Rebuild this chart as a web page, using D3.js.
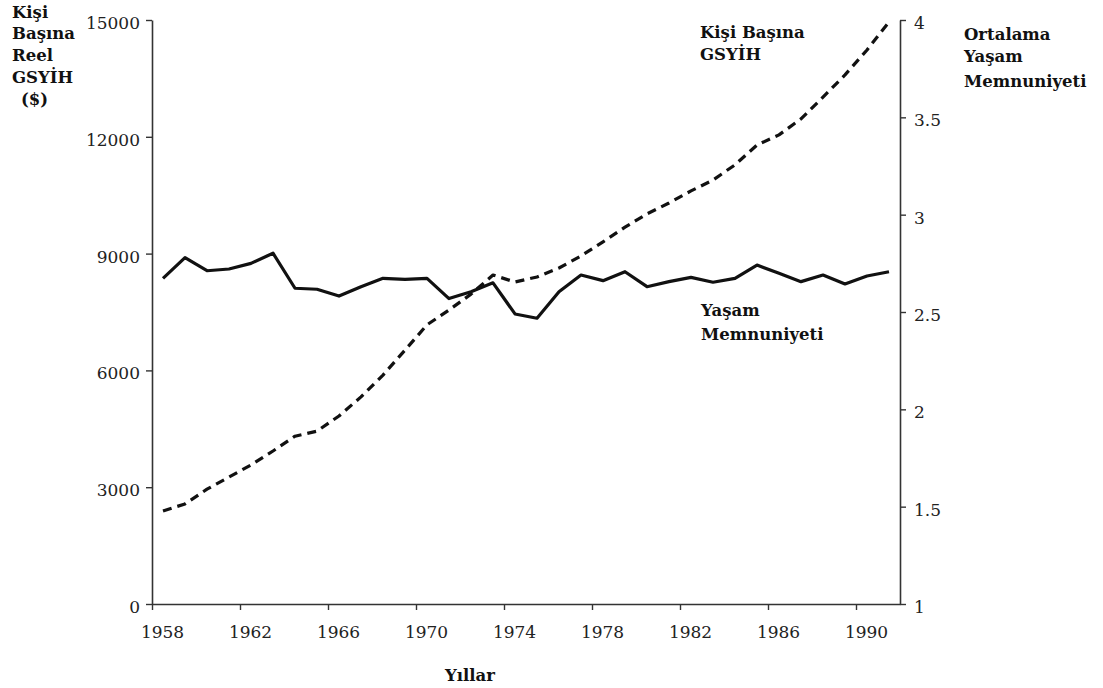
<!DOCTYPE html>
<html>
<head>
<meta charset="utf-8">
<script src="https://cdn.jsdelivr.net/npm/d3@7"></script>
<style>
  html, body { margin: 0; padding: 0; background: #fff; }
  svg { display: block; }
</style>
</head>
<body>
<svg id="chart" width="1103" height="688"></svg>
<script>
// ---- data ----
const years = [1958,1959,1960,1961,1962,1963,1964,1965,1966,1967,1968,1969,1970,1971,1972,1973,1974,
               1975,1976,1977,1978,1979,1980,1981,1982,1983,1984,1985,1986,1987,1988,1989,1990,1991];
const gdpPerCapita = [2390,2570,2950,3260,3570,3930,4310,4440,4830,5320,5880,6520,7170,7550,7960,8450,8270,
                      8400,8630,8940,9300,9680,10020,10300,10610,10890,11280,11790,12050,12460,13020,13590,14230,14950];
const lifeSatisfaction = [2.673,2.779,2.712,2.721,2.750,2.802,2.622,2.617,2.582,2.630,2.673,2.668,2.673,2.569,2.604,2.650,2.490,
                          2.468,2.604,2.690,2.661,2.707,2.630,2.656,2.678,2.653,2.673,2.741,2.699,2.656,2.690,2.644,2.685,2.707];
const xTicks = [1958,1962,1966,1970,1974,1978,1982,1986,1990];
const leftTicks = [0,3000,6000,9000,12000,15000];
const rightTicks = [1,1.5,2,2.5,3,3.5,4];
const leftTitle = ["Kişi","Başına","Reel","GSYİH","($)"];
const rightTitle = ["Ortalama","Yaşam","Memnuniyeti"];
const gdpLabel = ["Kişi Başına","GSYİH"];
const lsLabel = ["Yaşam","Memnuniyeti"];
const xTitle = "Yıllar";

// ---- layout ----
const svg = d3.select("#chart");
const x = d3.scaleLinear().domain([1958, 1992]).range([152, 900]);
const yL = d3.scaleLinear().domain([0, 15000]).range([604, 20]);
const yR = d3.scaleLinear().domain([1, 4]).range([604, 20]);
const serif = "'DejaVu Serif', serif";
const axisColor = "#333";

function styleAxis(g) {
  g.select(".domain").attr("stroke", axisColor).attr("stroke-width", 1.6);
  g.selectAll(".tick line").attr("stroke", axisColor).attr("stroke-width", 1.4);
  g.selectAll(".tick text").attr("fill", "#222").style("font-family", serif).style("font-size", "17px");
}

// x axis
const gx = svg.append("g").attr("transform", "translate(0,604)")
  .call(d3.axisBottom(x).tickValues(xTicks).tickFormat(d3.format("d")).tickSize(6).tickSizeOuter(0).tickPadding(16));
styleAxis(gx);
gx.selectAll(".tick text").attr("dx", 10);

// left axis
const gl = svg.append("g").attr("transform", "translate(152,0)")
  .call(d3.axisLeft(yL).tickValues(leftTicks).tickFormat(d3.format("d")).tickSize(6).tickSizeOuter(0).tickPadding(6));
styleAxis(gl);
gl.selectAll(".tick text").attr("dy", "0.5em");

// right axis
const gr = svg.append("g").attr("transform", "translate(900,0)")
  .call(d3.axisRight(yR).tickValues(rightTicks).tickFormat(d => d).tickSize(6).tickSizeOuter(0).tickPadding(8));
styleAxis(gr);
gr.selectAll(".tick text").attr("dy", "0.5em");

// lines
const gdpLine = d3.line().x((d, i) => x(years[i] + 0.5)).y(d => yL(d));
const lsLine = d3.line().x((d, i) => x(years[i] + 0.5)).y(d => yR(d));

svg.append("path").datum(gdpPerCapita)
  .attr("d", gdpLine).attr("fill", "none").attr("stroke", "#111")
  .attr("stroke-width", 3.2).attr("stroke-dasharray", "9,6").attr("stroke-linejoin", "round");

svg.append("path").datum(lifeSatisfaction)
  .attr("d", lsLine).attr("fill", "none").attr("stroke", "#111")
  .attr("stroke-width", 3.2).attr("stroke-linejoin", "round");

// text labels
function block(lines, xs, ys, anchor) {
  const t = svg.append("g").style("font-family", serif).style("font-weight", "bold")
    .style("font-size", "16.5px").attr("fill", "#111");
  lines.forEach((s, i) => {
    t.append("text").attr("x", Array.isArray(xs) ? xs[i] : xs).attr("y", ys[i])
      .attr("text-anchor", anchor || "start").text(s);
  });
}
block(leftTitle, [12,12,12,12,21], [18,39,61,83,105]);
block(rightTitle, 964, [40,62,87]);
block(gdpLabel, 700, [38,60]);
block(lsLabel, 701, [316,340]);
block([xTitle], 470, [681], "middle");
</script>
</body>
</html>
